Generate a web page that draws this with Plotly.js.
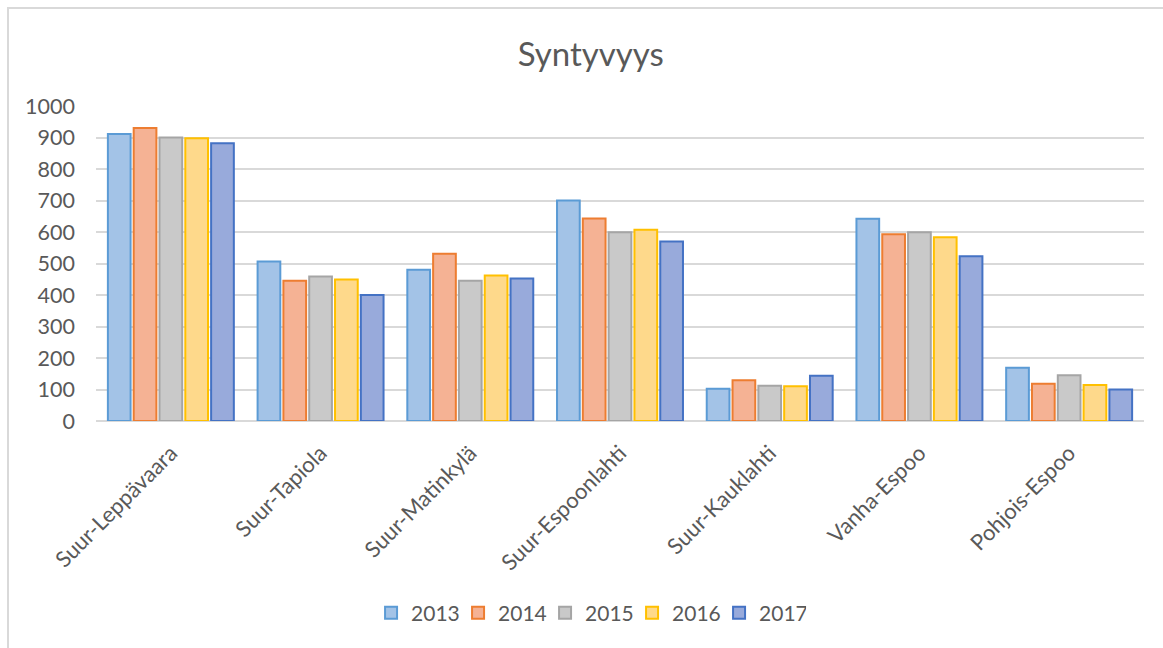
<!DOCTYPE html>
<html>
<head>
<meta charset="utf-8">
<script src="https://cdn.plot.ly/plotly-3.0.1.min.js"></script>
<style>
  html, body { margin: 0; padding: 0; background: #fff; overflow: hidden; }
  #frame { position: absolute; left: 0; top: 0; width: 1163px; height: 648px; }
  #border { position: absolute; left: 7px; top: 7px; width: 1200px; height: 700px; border: 2px solid #d9d9d9; box-sizing: border-box; pointer-events: none; }
  #chart { position: absolute; left: 0; top: 0; width: 1163px; height: 648px; }
</style>
</head>
<body>
<div id="frame">
  <div id="chart"></div>
  <div id="border"></div>
</div>
<script>
const categories = ["Suur-Leppävaara", "Suur-Tapiola", "Suur-Matinkylä", "Suur-Espoonlahti", "Suur-Kauklahti", "Vanha-Espoo", "Pohjois-Espoo"];
const years = ["2013", "2014", "2015", "2016", "2017"];
const v2013 = [911, 506, 480, 700, 102, 642, 169];
const v2014 = [930, 445, 531, 643, 129, 593, 118];
const v2015 = [900, 459, 445, 599, 112, 599, 145];
const v2016 = [898, 449, 462, 607, 110, 583, 114];
const v2017 = [882, 400, 452, 570, 144, 523, 100];
const yTicks = [0, 100, 200, 300, 400, 500, 600, 700, 800, 900, 1000];

const series = [v2013, v2014, v2015, v2016, v2017];
const fills = ["#a3c3e7", "#f5b294", "#c9c9c9", "#fed98b", "#98aadb"];
const lines = ["#5b9bd5", "#ed7d31", "#a5a5a5", "#ffc000", "#4472c4"];

const textColor = "#595959";
const font = "Lato, 'Open Sans', sans-serif";

const data = series.map((vals, i) => ({
  type: "bar",
  name: years[i],
  x: categories,
  y: vals,
  marker: { color: fills[i], line: { color: lines[i], width: 2 } },
  hoverinfo: "x+y+name"
}));

const layout = {
  width: 1163,
  height: 648,
  paper_bgcolor: "rgba(0,0,0,0)",
  plot_bgcolor: "rgba(0,0,0,0)",
  margin: { l: 96, r: 19, t: 106, b: 227 },
  font: { family: font, color: textColor, size: 21 },
  title: {
    text: "Syntyvyys",
    font: { family: font, size: 33, color: textColor },
    x: 0.508, xanchor: "center",
    y: 1 - 54 / 648, yanchor: "middle", yref: "container"
  },
  barmode: "group",
  bargap: 0.138,
  bargroupgap: 0.12,
  xaxis: {
    type: "category",
    tickangle: -45,
    tickfont: { family: font, size: 22, color: textColor },
    showgrid: false,
    showline: false,
    zeroline: false,
    ticks: "",
    ticklabelstandoff: 14
  },
  yaxis: {
    range: [0, 1000],
    tickvals: yTicks,
    ticktext: yTicks.map(String),
    tickfont: { family: font, size: 21.5, color: textColor },
    showgrid: true,
    gridcolor: "#d9d9d9",
    gridwidth: 2,
    zeroline: true,
    zerolinecolor: "#d9d9d9",
    zerolinewidth: 2,
    showline: false,
    ticks: "",
    ticklabelstandoff: 20,
    fixedrange: true
  },
  legend: {
    orientation: "h",
    x: 0.47, xanchor: "center",
    y: -192 / 315, yanchor: "middle",
    font: { family: font, size: 21, color: textColor },
    itemwidth: 30,
    entrywidth: 42,
    entrywidthmode: "pixels",
    traceorder: "normal"
  },
  showlegend: true
};

Plotly.newPlot("chart", data, layout, { displayModeBar: false, staticPlot: true });
</script>
</body>
</html>
